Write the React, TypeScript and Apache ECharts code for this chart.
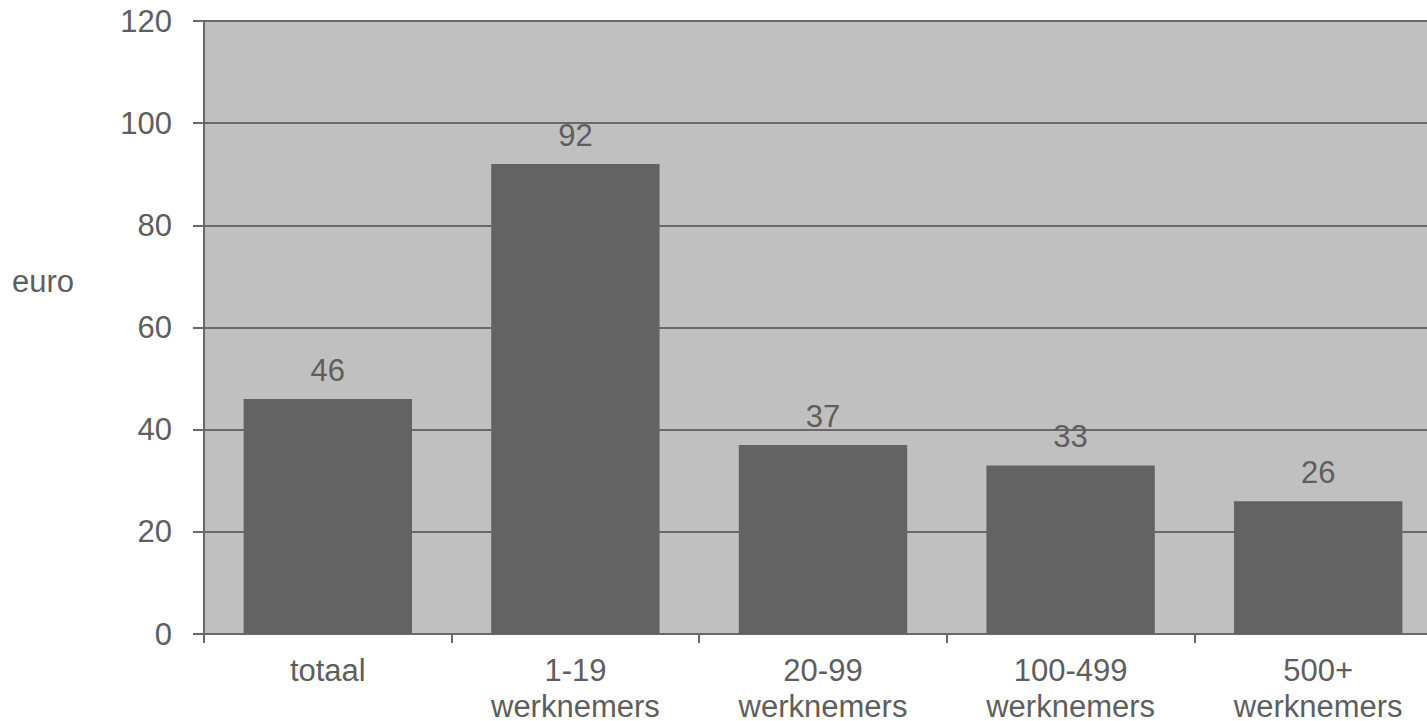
import React, { useEffect, useRef } from "react";
import * as echarts from "echarts";

const categories = ["totaal", "1-19\nwerknemers", "20-99\nwerknemers", "100-499\nwerknemers", "500+\nwerknemers"];
const values = [46, 92, 37, 33, 26];
const yAxisName = "euro";

const TEXT = "#5e5e5e";
const LINE = "#696969";
const FONT = "'Liberation Sans', Arial, sans-serif";

export default function App() {
  const ref = useRef<HTMLDivElement>(null);
  useEffect(() => {
    document.body.style.margin = "0";
    const chart = echarts.init(ref.current!, null, { renderer: "svg" });
    chart.setOption({
      animation: false,
      backgroundColor: "#ffffff",
      textStyle: { fontFamily: FONT },
      grid: {
        left: 204,
        top: 21,
        bottom: 87,
        right: -15,
        outerBoundsMode: "none",
        containLabel: false,
        show: true,
        backgroundColor: "#c0c0c0",
        borderWidth: 0,
      },
      graphic: [
        {
          type: "text",
          left: 12,
          top: 266,
          style: { text: yAxisName, fill: TEXT, font: `31px ${FONT}` },
        },
      ],
      xAxis: {
        type: "category",
        data: categories,
        boundaryGap: true,
        axisLine: { lineStyle: { color: LINE, width: 2 } },
        axisTick: { show: true, length: 9, lineStyle: { color: LINE, width: 2 } },
        axisLabel: {
          color: TEXT,
          fontSize: 31,
          lineHeight: 36,
          margin: 18,
          fontFamily: FONT,
          interval: 0,
        },
      },
      yAxis: {
        type: "value",
        min: 0,
        max: 120,
        interval: 20,
        axisLine: { show: true, lineStyle: { color: LINE, width: 2 } },
        axisTick: { show: true, length: 11, lineStyle: { color: LINE, width: 2 } },
        axisLabel: { color: TEXT, fontSize: 31, margin: 32, fontFamily: FONT },
        splitLine: { show: true, lineStyle: { color: LINE, width: 2 } },
      },
      series: [
        {
          type: "bar",
          data: values,
          barCategoryGap: "32%",
          itemStyle: { color: "#636363" },
          label: {
            show: true,
            position: "top",
            distance: 13,
            color: TEXT,
            fontSize: 31,
            fontFamily: FONT,
          },
        },
      ],
    });
    return () => chart.dispose();
  }, []);
  return <div ref={ref} style={{ width: 1427, height: 721 }} />;
}
